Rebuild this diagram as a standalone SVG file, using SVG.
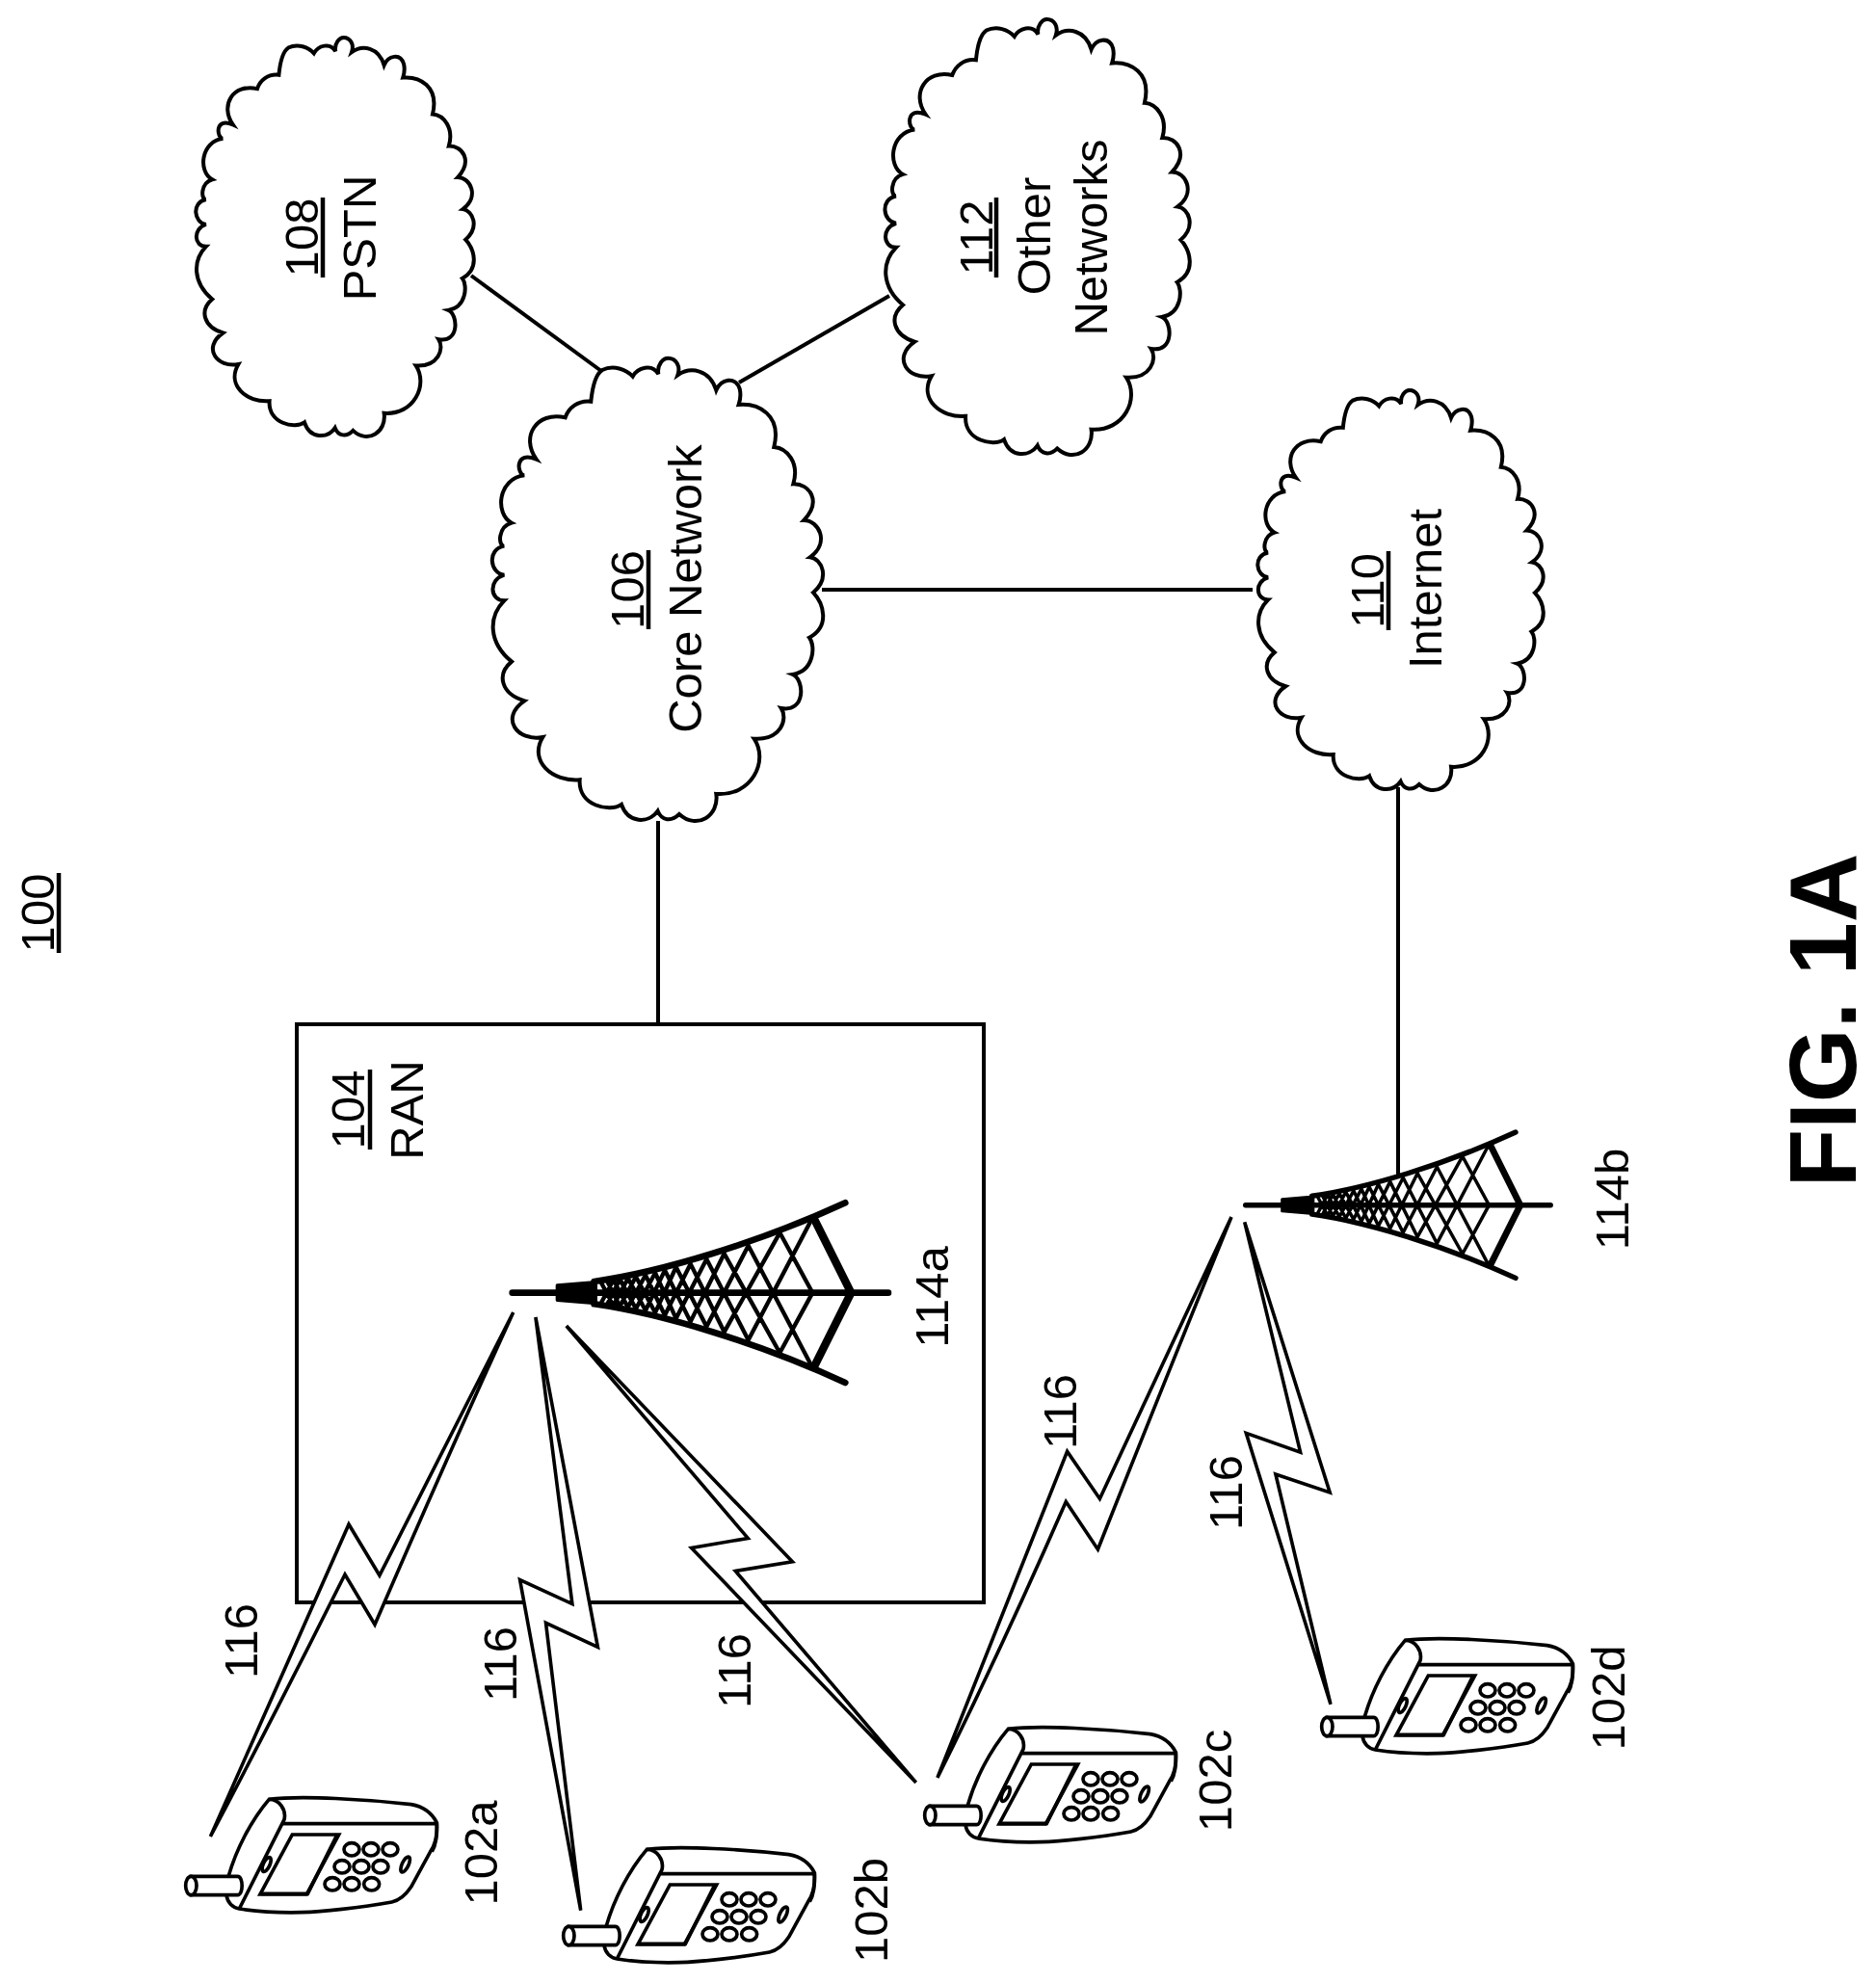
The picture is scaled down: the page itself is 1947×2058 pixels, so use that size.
<svg xmlns="http://www.w3.org/2000/svg" width="1947" height="2058" viewBox="0 0 1947 2058">
<style>
text{font-family:"Liberation Sans",Arial,sans-serif;font-size:49px;fill:#000;text-anchor:middle}
.fig{font-size:99px;font-weight:bold}
.ln{stroke:#000;stroke-width:4;fill:none}
.ul{stroke:#000;stroke-width:4.5;fill:none}
.bolt{stroke:#000;stroke-width:3.6;fill:#fff}
.cl{stroke:#000;stroke-width:4;fill:#fff;vector-effect:non-scaling-stroke}
.p{stroke:#000;stroke-width:11;fill:#fff}
.pn{stroke:#000;stroke-width:11;fill:none}
.t{stroke:#000;fill:none;stroke-linecap:round}
</style>
<defs>
<path id="cloud" class="cl" d="M340,140 C345,90 355,55 375,42 C410,25 450,40 470,62 C485,35 530,20 550,55 C545,25 565,5 580,5 C605,5 620,30 610,58 C650,30 710,40 730,105 C745,70 790,60 803,100 C808,120 805,135 800,150 C860,145 935,180 910,282 C950,285 990,330 970,397 C1020,395 1060,450 1003,510 C1050,510 1085,580 1022,625 C1060,630 1085,690 1032,735 C1065,770 1085,840 1020,875 C1040,900 1035,980 968,990 C1005,1005 1010,1110 932,1095 C955,1130 930,1195 848,1190 C895,1260 840,1370 730,1362 C740,1430 670,1475 615,1425 C590,1450 560,1445 548,1415 C520,1455 455,1455 435,1395 C400,1420 300,1400 305,1318 C220,1325 145,1260 190,1185 C110,1200 55,1125 133,1072 C60,1050 45,990 93,950 C20,890 20,810 70,760 C25,760 20,695 70,680 C25,675 15,600 70,590 C50,590 50,530 93,518 C40,490 50,380 133,370 C110,370 100,290 170,320 C120,250 170,170 260,190 C270,160 300,135 340,140 Z"/>
<g id="tower">
<path d="M175,342 L295,332 L295,398 L175,388 Z" fill="#000" stroke="#000" stroke-width="10" stroke-linejoin="round"/>
<path class="t" stroke-width="20" d="M35,365 H1206"/>
<path class="t" stroke-width="20" d="M290,330 C500,300 800,210 1072,85 M290,400 C500,430 800,520 1072,645"/>
<path class="t" stroke-width="25" stroke-linecap="butt" d="M975,135 L1090,365 L975,595"/>
<path class="t" stroke-width="13" stroke-linecap="butt" d="M968,135 L770,512 M968,595 L770,218 M868,178 L695,487 M868,552 L695,243 M770,218 L640,470 M770,512 L640,260 M695,243 L590,455 M695,487 L590,275 M640,260 L545,445 M640,470 L545,285 M590,275 L510,435 M590,455 L510,295 M545,285 L480,427 M545,445 L480,303 M510,295 L450,420 M510,435 L450,310 M480,303 L420,415 M480,427 L420,315 M450,310 L395,410 M450,420 L395,320 M420,315 L370,407 M420,415 L370,323 M395,320 L350,405 M395,410 L350,325 M370,323 L330,402 M370,407 L330,328 M350,325 L310,400 M350,405 L310,330 M868,178 L970,365 L868,552"/>
</g>
<g id="phone">
<path class="p" d="M205,603 C185,600 168,585 165,560 C165,540 168,515 172,500 C195,420 240,330 298,262 C400,250 600,262 740,278 C780,285 805,305 820,335 C822,370 818,400 800,425 L740,535 C720,565 700,578 680,582 C580,600 460,612 400,614 C320,616 250,610 205,603 Z"/>
<path class="pn" stroke-width="15" d="M805,425 C820,400 822,370 820,335"/>
<path class="pn" d="M298,262 C330,262 352,295 345,325 L205,603 M340,338 H820"/>
<path class="p" d="M370,372 H515 L415,558 H270 Z"/>
<path class="pn" stroke-width="19" stroke-linecap="square" d="M508,376 L418,556 H280"/>
<ellipse class="pn" cx="290" cy="465" rx="10" ry="24" transform="rotate(25 290 465)"/>
<ellipse class="pn" cx="722" cy="465" rx="10" ry="26" transform="rotate(25 722 465)"/>
<g class="pn">
<ellipse cx="555" cy="418" rx="24" ry="20"/><ellipse cx="615" cy="418" rx="24" ry="20"/><ellipse cx="675" cy="418" rx="24" ry="20"/>
<ellipse cx="525" cy="472" rx="24" ry="20"/><ellipse cx="585" cy="472" rx="24" ry="20"/><ellipse cx="645" cy="472" rx="24" ry="20"/>
<ellipse cx="495" cy="526" rx="24" ry="20"/><ellipse cx="555" cy="526" rx="24" ry="20"/><ellipse cx="617" cy="526" rx="24" ry="20"/>
</g>
<path class="p" d="M55,502 H200 C218,502 218,560 200,560 H55 Z"/>
<ellipse class="p" cx="55" cy="531" rx="17" ry="29"/>
</g>
</defs>
<g id="connectors">
<path class="ln" d="M489,286 L624,385"/>
<path class="ln" d="M767,397 L923,307"/>
<path class="ln" d="M853,612 H1300"/>
<path class="ln" d="M683,852 V1063"/>
<path class="ln" d="M1451,817 V1220"/>
</g>
<g id="node-100"><text transform="translate(56,947.5) rotate(-90)">100</text><path class="ul" d="M61,906 V989"/></g>
<g id="node-108"><use href="#cloud" transform="translate(194.2,37.5) scale(.28,.2873)"/><text transform="translate(330,246.5) rotate(-90)">108</text><path class="ul" d="M335,205 V288"/><text transform="translate(390,247) rotate(-90)">PSTN</text></g>
<g id="node-112"><use href="#cloud" transform="translate(908.5,18.4) scale(.307,.3137)"/><text transform="translate(1030,246.5) rotate(-90)">112</text><path class="ul" d="M1034,205 V288"/><text transform="translate(1090,245) rotate(-90)">Other</text><text transform="translate(1149,246.5) rotate(-90)">Networks</text></g>
<g id="node-106"><use href="#cloud" transform="translate(500,370) scale(.3333)"/><text transform="translate(668,612) rotate(-90)">106</text><path class="ul" d="M673,571 V653"/><text transform="translate(728,611) rotate(-90)">Core Network</text></g>
<g id="node-110"><use href="#cloud" transform="translate(1296,403.5) scale(.2877,.288)"/><text transform="translate(1436,613) rotate(-90)">110</text><path class="ul" d="M1441,572 V654"/><text transform="translate(1496,611) rotate(-90)">Internet</text></g>
<g id="node-104"><rect x="308" y="1063" width="713" height="600" fill="none" stroke="#000" stroke-width="4"/><text transform="translate(378,1151.5) rotate(-90)">104</text><path class="ul" d="M384,1110 V1193"/><text transform="translate(439,1152) rotate(-90)">RAN</text></g>
<g id="node-114a"><use href="#tower" transform="translate(520,1220) scale(.3333)"/><text transform="translate(984,1346) rotate(-90)">114a</text></g>
<g id="node-114b"><use href="#tower" transform="translate(1292.7,1250.7) scale(.2703) translate(-35,-365)"/><text transform="translate(1690,1244.5) rotate(-90)">114b</text></g>
<g id="links">
<path class="bolt" d="M532.7,1362 L393.9,1635 L362,1582 L218.4,1906 Q290,1770 358,1634 L389,1686 Q465,1510 532.7,1362 Z"/>
<path class="bolt" d="M555.9,1367 L593.9,1664.6 L539.6,1639.6 L602.7,1982.7 L566.5,1684.3 L620.4,1709.3 Z"/>
<path class="bolt" d="M587.8,1376 L776.3,1596.4 L717.6,1606.4 L950.7,1850 L763.3,1630.4 L822.4,1620.7 Z"/>
<path class="bolt" d="M1278,1263 L1141.4,1555.4 L1107.6,1506.4 L972.9,1845 Q1040,1710 1106.3,1558.5 L1139.4,1608 Q1210,1430 1278,1263 Z"/>
<path class="bolt" d="M1291.7,1268.3 L1349.6,1507.2 L1293.3,1487.4 L1381,1768.8 L1323.9,1530 L1380.2,1549 Z"/>
<text transform="translate(266.5,1703) rotate(-90)">116</text>
<text transform="translate(536,1727) rotate(-90)">116</text>
<text transform="translate(779,1734) rotate(-90)">116</text>
<text transform="translate(1117,1465) rotate(-90)">116</text>
<text transform="translate(1289,1549) rotate(-90)">116</text>
</g>
<g id="node-102a"><use href="#phone" transform="translate(180,1780) scale(.3333)"/><text transform="translate(516,1923) rotate(-90)">102a</text></g>
<g id="node-102b"><use href="#phone" transform="translate(572,1832) scale(.3333)"/><text transform="translate(921,1982.5) rotate(-90)">102b</text></g>
<g id="node-102c"><use href="#phone" transform="translate(947,1707) scale(.3333)"/><text transform="translate(1278,1848) rotate(-90)">102c</text></g>
<g id="node-102d"><use href="#phone" transform="translate(1359,1615) scale(.3333)"/><text transform="translate(1686,1762) rotate(-90)">102d</text></g>
<text class="fig" transform="translate(1926,1059) rotate(-90)">FIG. 1A</text>
</svg>
